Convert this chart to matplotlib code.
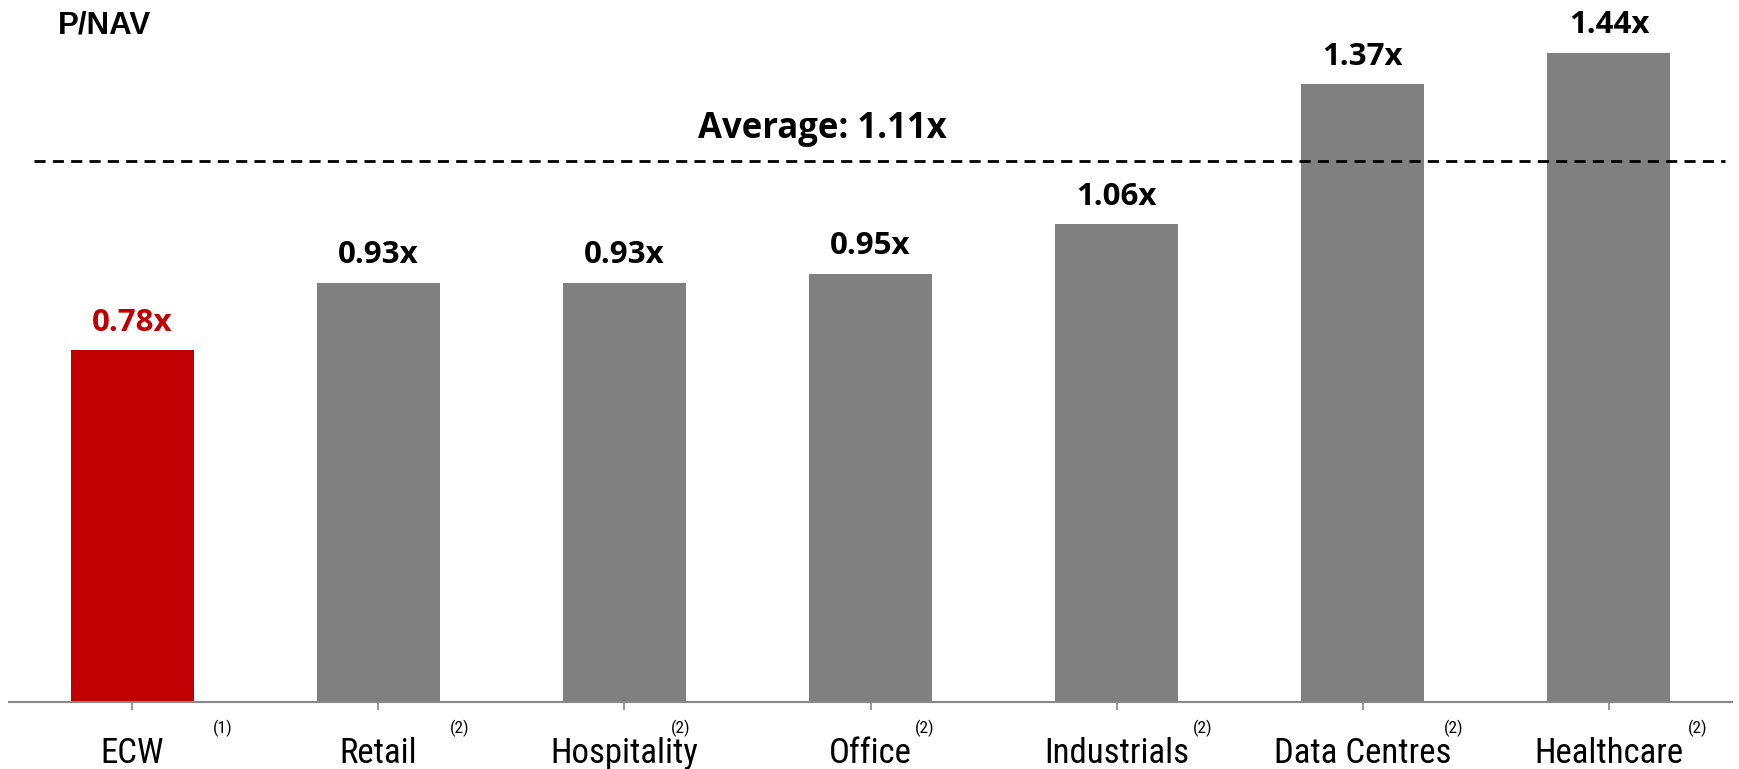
import matplotlib
matplotlib.use("Agg")
import matplotlib.pyplot as plt
from matplotlib import font_manager

categories = ["ECW", "Retail", "Hospitality", "Office", "Industrials", "Data Centres", "Healthcare"]
footnotes = ["(1)", "(2)", "(2)", "(2)", "(2)", "(2)", "(2)"]
values = [0.78, 0.93, 0.93, 0.95, 1.06, 1.37, 1.44]
value_labels = ["0.78x", "0.93x", "0.93x", "0.95x", "1.06x", "1.37x", "1.44x"]
average_label = "Average: 1.11x"
average_line_level = 1.20  # where the dashed line sits in the picture
title = "P/NAV"

# style
colors = ["#C00000"] + ["#808080"] * 6
label_colors = ["#C00000"] + ["#000000"] * 6
foot_dx = [0.37, 0.33, 0.23, 0.22, 0.35, 0.37, 0.36]

names = {f.name for f in font_manager.fontManager.ttflist}
if "Roboto Condensed" in names:
    narrow, nsize = "Roboto Condensed", 25
else:
    narrow, nsize = "Roboto", 22.5

W, H = 1739, 769
fig = plt.figure(figsize=(W / 100, H / 100), dpi=100)
ax = fig.add_axes([9 / W, 1 - 702 / H, (1732 - 9) / W, 702 / H])

x = list(range(len(categories)))
ax.bar(x, values, width=0.5, color=colors, zorder=2)
ax.set_xlim(-0.5, len(categories) - 0.5)
ax.set_ylim(0, 1.557)

for xi, v, lab, c in zip(x, values, value_labels, label_colors):
    ax.annotate(lab, (xi, v), xytext=(0, 9), textcoords="offset points",
                ha="center", va="bottom", fontsize=22.5, fontweight="bold",
                color=c, family="Open Sans")

ax.hlines(average_line_level, -0.4, 6.47, colors="black", linestyles=(0, (4, 2.6)),
          linewidth=2, zorder=3)
ax.annotate(average_label, (2.806, average_line_level), xytext=(0, 10),
            textcoords="offset points", ha="center", va="bottom",
            fontsize=25, fontweight="bold", family="Open Sans")

for s in ["top", "right", "left"]:
    ax.spines[s].set_visible(False)
ax.spines["bottom"].set_color("#888888")
ax.spines["bottom"].set_linewidth(1.5)
ax.set_yticks([])
ax.set_xticks(x)
ax.set_xticklabels(categories, fontsize=nsize, family=narrow)
ax.tick_params(axis="x", length=6, width=1.2, color="#888888", pad=19)

for xi, fn, dx in zip(x, footnotes, foot_dx):
    ax.annotate(fn, (xi + dx, 0), xytext=(0, -13), textcoords="offset points",
                ha="center", va="top", fontsize=12.5, family=narrow)

fig.text(58 / W, 1 - 25 / H, title, ha="left", va="center", fontsize=22.5,
         fontweight="bold", family="Liberation Sans")

fig.savefig("out.png", dpi=100)
